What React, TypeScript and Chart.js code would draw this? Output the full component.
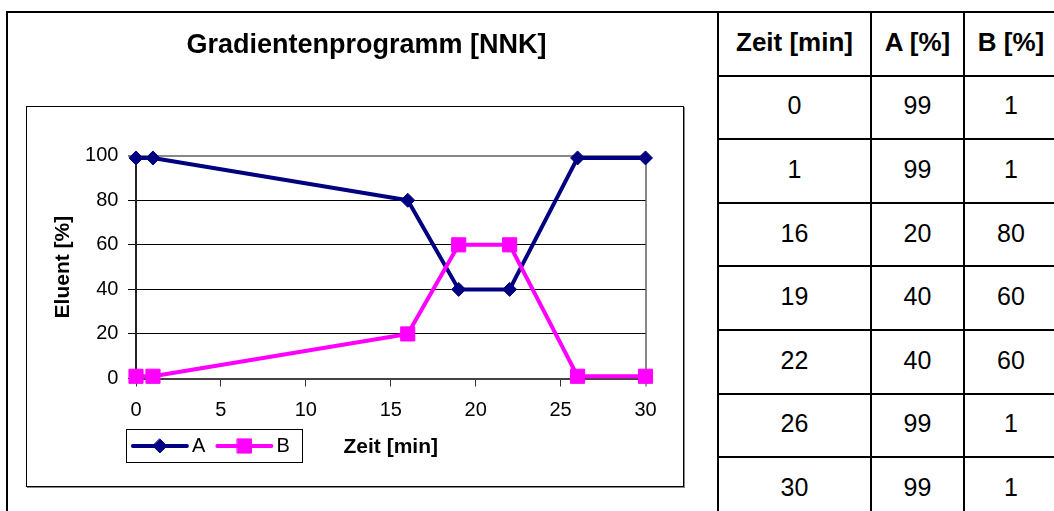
import React, { useEffect, useRef } from 'react';
import { Chart, registerables } from 'chart.js';

Chart.register(...registerables);

const FONT = '"Liberation Sans", Arial, Helvetica, sans-serif';

// ---- chart data ----
const chartTitle = 'Gradientenprogramm [NNK]';
const xAxisTitle = 'Zeit [min]';
const yAxisTitle = 'Eluent [%]';
const seriesNames = ['A', 'B'];
const seriesColors = ['#000080', '#FF00FF'];
const seriesMarkers = ['rectRot', 'rect'];
const times = [0, 1, 16, 19, 22, 26, 30];
const valuesA = [99, 99, 80, 40, 40, 99, 99];
const valuesB = [1, 1, 20, 60, 60, 1, 1];
const xMin = 0;
const xMax = 30;
const xStep = 5;
const yMin = 0;
const yMax = 100;
const yStep = 20;

// ---- table data ----
const tableHeaders = ['Zeit [min]', 'A [%]', 'B [%]'];
const tableTimes = [0, 1, 16, 19, 22, 26, 30];
const tableA = [99, 99, 20, 40, 40, 99, 99];
const tableB = [1, 1, 80, 60, 60, 1, 1];

function drawMarker(ctx: CanvasRenderingContext2D, style: string, x: number, y: number, color: string) {
  ctx.save();
  ctx.fillStyle = color;
  ctx.strokeStyle = color;
  ctx.lineWidth = 1;
  ctx.beginPath();
  if (style === 'rectRot') {
    const r = 7;
    ctx.moveTo(x, y - r);
    ctx.lineTo(x + r, y);
    ctx.lineTo(x, y + r);
    ctx.lineTo(x - r, y);
    ctx.closePath();
  } else {
    const s = 10 * Math.SQRT1_2;
    ctx.rect(x - s, y - s, 2 * s, 2 * s);
  }
  ctx.fill();
  ctx.stroke();
  ctx.restore();
}

const boxLegend = {
  id: 'boxLegend',
  afterDraw(chart: any) {
    const { ctx, chartArea } = chart;
    const left = Math.round(chartArea.left - 10.3);
    const top = Math.round(chartArea.bottom + 50.8);
    const w = 176;
    const h = 33;
    ctx.save();
    ctx.fillStyle = '#fff';
    ctx.fillRect(left, top, w, h);
    ctx.strokeStyle = '#000';
    ctx.lineWidth = 1;
    ctx.strokeRect(left + 0.5, top + 0.5, w, h);
    const cy = top + h / 2 + 0.5;
    chart.data.datasets.forEach((ds: any, i: number) => {
      const x0 = left + 6.9 + 84.5 * i;
      const x1 = x0 + 54;
      ctx.strokeStyle = ds.borderColor;
      ctx.lineWidth = 4;
      ctx.lineCap = 'round';
      ctx.beginPath();
      ctx.moveTo(x0, cy);
      ctx.lineTo(x1, cy);
      ctx.stroke();
      drawMarker(ctx, ds.pointStyle, (x0 + x1) / 2, cy, ds.borderColor);
      ctx.fillStyle = '#000';
      ctx.font = `20px ${FONT}`;
      ctx.textBaseline = 'middle';
      ctx.textAlign = 'left';
      ctx.fillText(ds.label, x1 + 5, cy);
    });
    ctx.restore();
  },
};

function GradientChart() {
  const ref = useRef<HTMLCanvasElement | null>(null);
  useEffect(() => {
    if (!ref.current) return;
    const seriesValues = [valuesA, valuesB];
    const chart = new Chart(ref.current, {
      type: 'line',
      data: {
        datasets: seriesNames.map((name, i) => ({
          label: name,
          data: times.map((t, j) => ({ x: t, y: seriesValues[i][j] })),
          borderColor: seriesColors[i],
          backgroundColor: seriesColors[i],
          pointBackgroundColor: seriesColors[i],
          pointBorderColor: seriesColors[i],
          pointStyle: seriesMarkers[i] as any,
          pointRadius: i === 0 ? 7 : 10,
          pointBorderWidth: 1,
          borderWidth: 4,
          borderJoinStyle: 'round' as any,
          tension: 0,
          clip: false as any,
          yAxisID: 'y',
          order: i === 0 ? 1 : 0,
        })),
      },
      options: {
        responsive: false,
        animation: false,
        devicePixelRatio: 1,
        layout: { padding: { left: 8, right: 0, top: 0, bottom: 0 } },
        plugins: {
          legend: { display: false },
          tooltip: { enabled: false },
          title: {
            display: true,
            text: chartTitle,
            color: '#000',
            font: { family: FONT, size: 27, weight: 'bold' },
            padding: { top: 16.8, bottom: 93.5 },
          },
        },
        scales: {
          x: {
            type: 'linear',
            min: xMin,
            max: xMax,
            afterFit: (s: any) => {
              s.height = 132.5;
            },
            ticks: {
              stepSize: xStep,
              color: '#000',
              padding: 11.5,
              font: { family: FONT, size: 20 },
              maxRotation: 0,
            },
            grid: {
              color: (c: any) => (c.tick && c.tick.value === xMax ? '#888888' : 'rgba(0,0,0,0)'),
              lineWidth: (c: any) => (c.tick && c.tick.value === xMax ? 2 : 1),
              tickColor: '#333',
              tickWidth: 1,
              tickLength: 8,
            },
            border: { color: '#444', width: 2 },
            title: {
              display: true,
              text: xAxisTitle,
              color: '#000',
              font: { family: FONT, size: 21, weight: 'bold' },
              padding: { top: 0, bottom: 50.9 },
            },
          },
          y: {
            position: 'left',
            min: yMin,
            max: yMax,
            afterFit: (s: any) => {
              s.width = 120;
            },
            ticks: {
              stepSize: yStep,
              color: '#000',
              padding: 9.6,
              font: { family: FONT, size: 20 },
            },
            grid: {
              color: (c: any) => (c.tick && c.tick.value === yMax ? '#888888' : '#000'),
              lineWidth: (c: any) => (c.tick && c.tick.value === yMax ? 2 : 1),
              tickColor: '#000',
              tickWidth: 1,
              tickLength: 8,
            },
            border: { color: '#222', width: 2 },
            title: {
              display: true,
              text: yAxisTitle,
              color: '#000',
              font: { family: FONT, size: 21, weight: 'bold' },
              padding: { top: 34.7, bottom: 0 },
            },
          },
          spacer: {
            type: 'linear',
            position: 'right',
            display: true,
            afterFit: (s: any) => {
              s.width = 71.5;
            },
            ticks: { display: false },
            grid: { display: false, drawTicks: false },
            border: { display: false },
            title: { display: false },
          },
        },
      },
      plugins: [boxLegend],
    } as any);
    return () => chart.destroy();
  }, []);
  return (
    <canvas
      ref={ref}
      width={709}
      height={498}
      style={{ position: 'absolute', left: 8, top: 13, width: 709, height: 498 }}
    />
  );
}

const cellBase: React.CSSProperties = {
  display: 'flex',
  alignItems: 'center',
  justifyContent: 'center',
  borderRight: '2px solid #000',
  borderBottom: '2px solid #000',
  boxSizing: 'border-box',
  fontFamily: FONT,
  color: '#000',
  paddingBottom: 3,
};

function GradientTable() {
  const rows = tableTimes.map((t, i) => [t, tableA[i], tableB[i]]);
  return (
    <div
      style={{
        position: 'absolute',
        left: 717,
        top: 11,
        display: 'grid',
        gridTemplateColumns: '153px 93px 94px',
        gridAutoRows: '63.6px',
        borderLeft: '2px solid #000',
        borderTop: '2px solid #000',
      }}
    >
      {tableHeaders.map((h, i) => (
        <div key={'h' + i} style={{ ...cellBase, fontSize: 26, fontWeight: 'bold' }}>
          {h}
        </div>
      ))}
      {rows.map((r, i) =>
        r.map((v, j) => (
          <div key={i + '-' + j} style={{ ...cellBase, fontSize: 25 }}>
            {v}
          </div>
        ))
      )}
    </div>
  );
}

export default function App() {
  return (
    <div
      style={{
        position: 'fixed',
        left: 0,
        top: 0,
        width: 1054,
        height: 511,
        overflow: 'hidden',
        background: '#fff',
      }}
    >
      <div
        style={{
          position: 'absolute',
          left: 6,
          top: 11,
          width: 713,
          height: 560,
          borderLeft: '2px solid #000',
          borderTop: '2px solid #000',
          boxSizing: 'border-box',
        }}
      />
      <div
        style={{
          position: 'absolute',
          left: 26,
          top: 106,
          width: 658,
          height: 381,
          border: '1px solid #000',
          boxShadow: '1px 1px 0 #888',
          boxSizing: 'border-box',
        }}
      />
      <GradientChart />
      <GradientTable />
    </div>
  );
}
